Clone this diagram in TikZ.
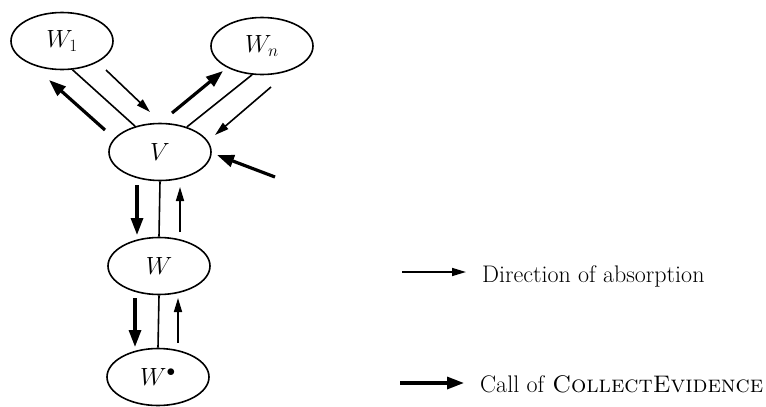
\documentclass[tikz,border=0pt]{standalone}
\usetikzlibrary{arrows.meta,shapes.geometric}
\begin{document}
\begin{tikzpicture}[x=1pt,y=-1pt,
  stateellipse/.style={draw,ellipse,line width=1.6pt,minimum width=102pt,minimum height=57pt,inner sep=0pt,font=\fontsize{24}{28}\selectfont},
  link/.style={line width=1.6pt},
  thinarrow/.style={line width=1.6pt,-{Triangle[length=14pt,width=8pt]}},
  thickarrow/.style={line width=3.2pt,-{Triangle[length=17pt,width=12pt]}},
  legendtext/.style={anchor=base west,inner sep=0pt,font=\fontsize{24}{28}\selectfont}]
\useasboundingbox (0,0) rectangle (766,407);
\node[stateellipse] (w1) at (62,41) {$W_1$};
\node[stateellipse] (wn) at (262,46) {$W_n$};
\node[stateellipse] (v) at (160,152) {$V$};
\node[stateellipse] (w) at (159,266) {$W$};
\node[stateellipse] (ws) at (158,377) {$W^{\bullet}$};
% links
\draw[link] (w1.-70) -- (v.134);
\draw[link] (wn.-109) -- (v.43);
\draw[link] (v.south) -- (w.north);
\draw[link] (w.south) -- (ws.north);
% arrows W1 - V
\coordinate (a1s) at (105,130); \coordinate (a1e) at (49,80);
\draw[thickarrow] (a1s) -- (a1e);
\coordinate (a2s) at (106,70); \coordinate (a2e) at (150,112);
\draw[thinarrow] (a2s) -- (a2e);
% arrows Wn - V
\coordinate (a3s) at (172,113); \coordinate (a3e) at (223,71);
\draw[thickarrow] (a3s) -- (a3e);
\coordinate (a4s) at (271,87); \coordinate (a4e) at (215,135);
\draw[thinarrow] (a4s) -- (a4e);
% incoming to V
\coordinate (a5s) at (275,177); \coordinate (a5e) at (217,155);
\draw[thickarrow] (a5s) -- (a5e);
% V - W
\coordinate (a6s) at (137,185); \coordinate (a6e) at (137,235);
\draw[thickarrow] (a6s) -- (a6e);
\coordinate (a7s) at (180,232); \coordinate (a7e) at (180,187);
\draw[thinarrow] (a7s) -- (a7e);
% W - W*
\coordinate (a8s) at (135,298); \coordinate (a8e) at (135,347);
\draw[thickarrow] (a8s) -- (a8e);
\coordinate (a9s) at (178,343); \coordinate (a9e) at (178,298);
\draw[thinarrow] (a9s) -- (a9e);
% legend
\coordinate (l1s) at (402,272); \coordinate (l1e) at (466,272);
\draw[thinarrow] (l1s) -- (l1e);
\node[legendtext] (t1) at (482,282) {Direction of absorption};
\coordinate (l2s) at (400,383); \coordinate (l2e) at (464,383);
\draw[thickarrow] (l2s) -- (l2e);
\node[legendtext] (t2) at (480,392) {Call of \textsc{CollectEvidence}};
\end{tikzpicture}
\end{document}
